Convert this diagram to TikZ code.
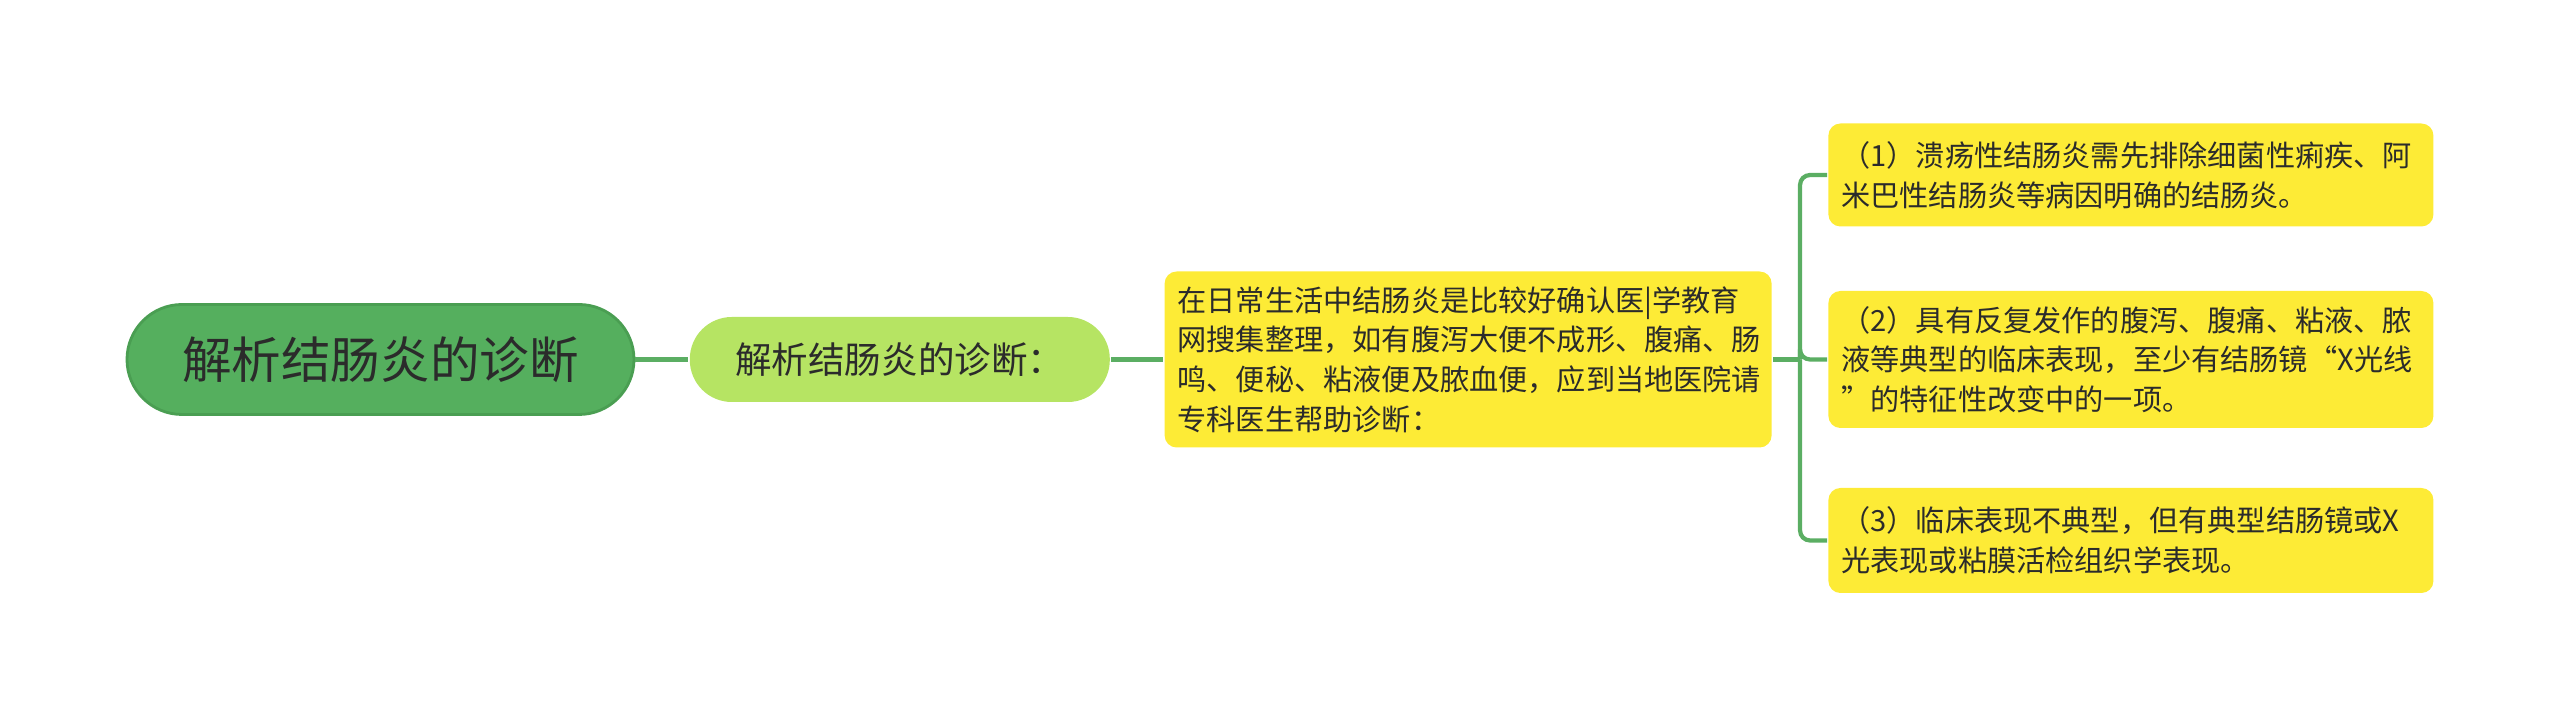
\documentclass[tikz,border=0pt]{standalone}
\usepackage{fontspec}
\setmainfont{Noto Sans CJK SC}
\usetikzlibrary{positioning}

\definecolor{rootgreen}{HTML}{55AF5E}
\definecolor{rootedge}{HTML}{4A9E52}
\definecolor{lightgreen}{HTML}{B6E463}
\definecolor{noteyellow}{HTML}{FDEB36}
\definecolor{linegreen}{HTML}{5BAE63}
\definecolor{inkgray}{HTML}{2B2B2B}

\begin{document}
\begin{tikzpicture}[auto, node distance=0.56cm, thick,
    root node/.style={rectangle, draw=rootedge, line width=0.8pt, fill=rootgreen, rounded corners=0.55cm, minimum width=5.07cm, minimum height=1.1cm, text=inkgray, font=\fontsize{14.1}{17}\selectfont},
    main node/.style={rectangle, fill=lightgreen, rounded corners=0.42cm, minimum width=4.2cm, minimum height=0.85cm, text=inkgray, font=\fontsize{10.4}{12}\selectfont},
    note node/.style={rectangle, fill=noteyellow, rounded corners=0.12cm, inner xsep=0.13cm, align=left, text=inkgray, font=\fontsize{8.3}{11.3}\selectfont},
    link/.style={draw=linegreen, line width=1.2pt}]
\useasboundingbox (0,0) rectangle (25.6,7.19);

\node[root node] (root) at (3.805,3.595) {解析结肠炎的诊断};
\node[main node] (diag) [right=0.53cm of root] {解析结肠炎的诊断：};
\node[note node, text width=5.81cm, minimum height=1.76cm] (intro) [right=0.52cm of diag]
    {在日常生活中结肠炎是比较好确认医|学教育\\网搜集整理，如有腹泻大便不成形、腹痛、肠\\鸣、便秘、粘液便及脓血便，应到当地医院请\\专科医生帮助诊断：};

\foreach \s/\y/\h/\t in {
    ulcer/5.44/1.03/{（1）溃疡性结肠炎需先排除细菌性痢疾、阿\\米巴性结肠炎等病因明确的结肠炎。},
    typical/3.595/1.37/{（2）具有反复发作的腹泻、腹痛、粘液、脓\\液等典型的临床表现，至少有结肠镜“X光线\\”的特征性改变中的一项。},
    atypical/1.785/1.05/{（3）临床表现不典型，但有典型结肠镜或X\\光表现或粘膜活检组织学表现。}}{
    \node[note node, text width=5.79cm, minimum height=\h cm, anchor=west] (\s) at (18.27,\y) {\t};}

\coordinate (fork) at ([xshift=0.27cm]intro.east);
\draw[link] (root) -- (diag);
\draw[link] (diag) -- (intro);
\draw[link] (intro.east) -- (fork);
\foreach \s in {ulcer, typical, atypical}
    \draw[link, rounded corners=0.1cm] (fork) |- (\s.west);
\end{tikzpicture}
\end{document}
